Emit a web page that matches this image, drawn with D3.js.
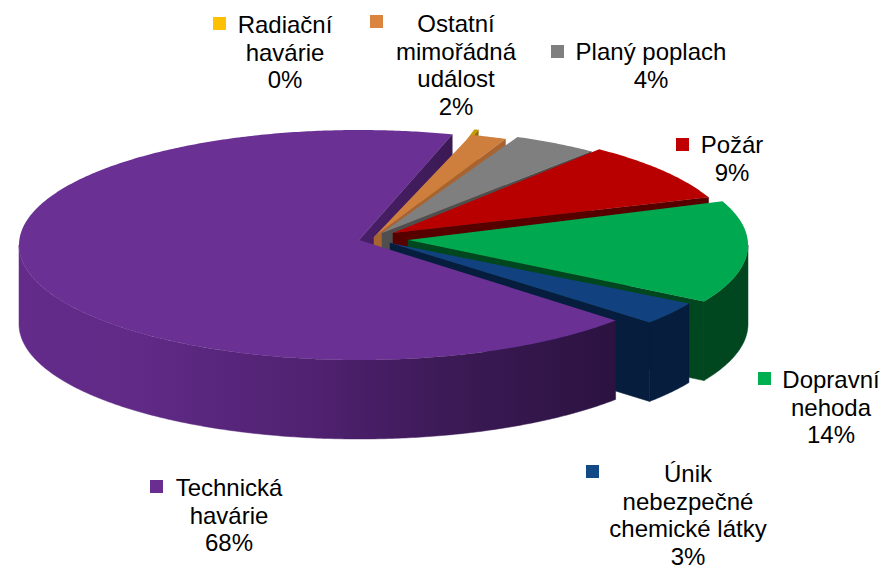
<!DOCTYPE html>
<html>
<head>
<meta charset="utf-8">
<script src="https://cdn.jsdelivr.net/npm/d3@7"></script>
<style>
  html, body { margin: 0; padding: 0; background: #fff; }
  text { font-family: "Liberation Sans", Arial, sans-serif; font-size: 24px; fill: #000; text-anchor: middle; }
</style>
</head>
<body>
<div id="chart"></div>
<script>
//// data, clockwise from the start of the big slice
const categories = ["Technická havárie", "Radiační havárie", "Ostatní mimořádná událost", "Planý poplach", "Požár", "Dopravní nehoda", "Únik nebezpečné chemické látky"];
const values = [68.1, 0.2, 1.7, 4, 8.5, 14.4, 3.2];
const percentLabels = ["68%", "0%", "2%", "4%", "9%", "14%", "3%"];
const labelLines = [["Technická", "havárie"], ["Radiační", "havárie"], ["Ostatní", "mimořádná", "událost"], ["Planý poplach"], ["Požár"], ["Dopravní", "nehoda"], ["Únik", "nebezpečné", "chemické látky"]];

//// colours
const topColors = ["#6a3093", "#c99a00", "#cf7f3d", "#7f7f7f", "#b80000", "#00a84f", "#11427f"];
const keyColors = ["#6a2e92", "#ffc000", "#db843d", "#7f7f7f", "#c00000", "#00b050", "#134a86"];
const sideColors = ["url(#purpleSide)", "#8f6d00", "#a86430", "#4f4f4f", "#570000", "#00471f", "#061d3d"];

//// layout of the tilted pie
const width = 884, height = 567;
const rx = 340, ry = 115, cy = 245, depth = 79;
const sliceCx = [359, 381, 374, 386, 394, 408, 393];   // each slice is pulled out on its own
const sliceDy = [0, -5, 0, -2, -4, 0, 2];
const apexX = [359, 395, 374, 382, 393, 408, 390];
const apexY = [240, 237, 237, 233, 233, 240, 243];
const labelX = [229, 285, 456, 651, 732, 831, 688];
const labelY = [496, 33, 32, 60, 153, 388, 482];
const keyPos = [[150, 480], [213, 17], [370, 15], [551, 45], [676, 138], [758, 372], [586, 465]];
const lineGap = 27.6;

const svg = d3.select("#chart").append("svg")
  .attr("width", width)
  .attr("height", height)
  .style("display", "block");

const grad = svg.append("defs").append("linearGradient")
  .attr("id", "purpleSide")
  .attr("gradientUnits", "userSpaceOnUse")
  .attr("x1", 19).attr("x2", 615).attr("y1", 0).attr("y2", 0);
[[0, "#642b8a"], [0.2, "#602a86"], [0.5, "#4f2170"], [0.72, "#3c1a56"], [1, "#2b1240"]].forEach(s => {
  grad.append("stop").attr("offset", s[0]).attr("stop-color", s[1]);
});

// pie angles: the big slice ends at 131 degrees, measured clockwise from the back
const startAngle = (131 - 360) * Math.PI / 180;
const arcs = d3.pie().sort(null).startAngle(startAngle).endAngle(startAngle + 2 * Math.PI)(values);

function rim(i, a, h) {
  return [sliceCx[i] + rx * Math.sin(a), cy + sliceDy[i] - ry * Math.cos(a) + h];
}
function apex(i, h) {
  return [apexX[i], apexY[i] + h];
}
function arcPoints(i, a0, a1, h) {
  const n = Math.max(2, Math.ceil(Math.abs(a1 - a0) / 0.01));
  return d3.range(n + 1).map(k => rim(i, a0 + (a1 - a0) * k / n, h));
}

const line = d3.line();
const area = pts => line(pts) + "Z";

// thin same colour stroke closes the seam between cut face and rim
function drawShade(i, pts) {
  svg.append("path")
    .attr("d", area(pts))
    .attr("fill", sideColors[i])
    .attr("stroke", sideColors[i])
    .attr("stroke-width", 0.5);
}
function drawCut(i, a) {
  drawShade(i, [apex(i, 0), rim(i, a, 0), rim(i, a, depth), apex(i, depth)]);
}
function drawSide(i) {
  const d = arcs[i];
  // only the part of the rim that faces the viewer
  const from = i === 0 ? d.startAngle : Math.max(d.startAngle, Math.PI / 2);
  const to = i === 0 ? -Math.PI / 2 : d.endAngle;
  if (to <= from) return;
  drawShade(i, arcPoints(i, from, to, 0).concat(arcPoints(i, to, from, depth)));
}
function drawTop(i) {
  const d = arcs[i];
  svg.append("path")
    .attr("d", area([apex(i, 0)].concat(arcPoints(i, d.startAngle, d.endAngle, 0))))
    .attr("fill", topColors[i]);
}

//// slices, back to front
// the cut face of the big slice sits behind the small ones
drawCut(0, arcs[0].endAngle);
[1, 2, 3, 4, 5, 6].forEach(i => {
  drawCut(i, arcs[i].endAngle);
  drawSide(i);
  drawTop(i);
});
drawSide(0);
drawTop(0);

//// labels
categories.forEach((c, i) => {
  svg.append("rect")
    .attr("x", keyPos[i][0]).attr("y", keyPos[i][1])
    .attr("width", 13).attr("height", 13)
    .attr("fill", keyColors[i]);
  labelLines[i].concat(percentLabels[i]).forEach((t, k) => {
    svg.append("text")
      .attr("x", labelX[i])
      .attr("y", labelY[i] + k * lineGap)
      .text(t);
  });
});
</script>
</body>
</html>
